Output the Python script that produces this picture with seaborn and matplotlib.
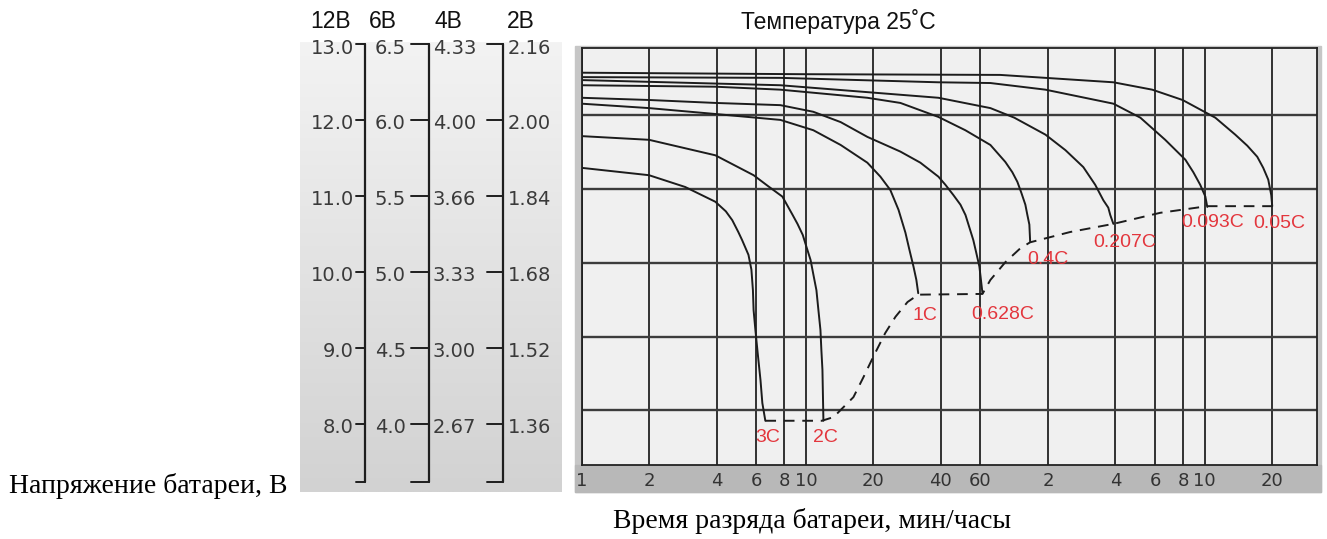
import numpy as np
import pandas as pd
import seaborn as sns
import matplotlib.pyplot as plt
from matplotlib.patches import Rectangle
from matplotlib.ticker import NullLocator

# left scales: the same marks for 12, 6, 4 and 2 V batteries
volts_12 = [13.0, 12.0, 11.0, 10.0, 9.0, 8.0]
labels_12 = ["13.0", "12.0", "11.0", "10.0", "9.0", "8.0"]
labels_6 = ["6.5", "6.0", "5.5", "5.0", "4.5", "4.0"]
labels_4 = ["4.33", "4.00", "3.66", "3.33", "3.00", "2.67"]
labels_2 = ["2.16", "2.00", "1.84", "1.68", "1.52", "1.36"]
scale_bottom = 7.23
headers = ["12В", "6В", "4В", "2В"]

# discharge curves: time (min) and voltage (12 V battery)
rates = ["3C", "2C", "1C", "0.628C", "0.4C", "0.207C", "0.093C", "0.05C"]
t_3c = [1, 2, 2.9, 3.95, 4.4, 4.7, 5.0, 5.2, 5.55, 5.72, 5.81, 5.85, 5.96, 6.1, 6.28, 6.4, 6.6]
v_3c = [11.29, 11.19, 11.03, 10.83, 10.70, 10.58, 10.42, 10.31, 10.11, 9.91, 9.63, 9.36,
        9.09, 8.78, 8.41, 8.10, 7.86]
t_2c = [1, 2, 3.95, 5.85, 6.8, 7.86, 8.7, 9.18, 9.69, 10.06, 10.5, 10.81, 11.15, 11.38,
        11.62, 11.73, 11.86, 11.92, 11.98]
v_2c = [11.72, 11.67, 11.46, 11.19, 11.04, 10.90, 10.66, 10.53, 10.38, 10.22, 10.04, 9.84,
        9.63, 9.36, 9.09, 8.82, 8.55, 8.20, 7.86]
t_1c = [1, 2, 3.95, 7.7, 10.8, 14.3, 18.8, 21.5, 23.8, 25.9, 27.8, 28.9, 30.2, 31.1, 31.7]
v_1c = [12.16, 12.10, 12.02, 11.94, 11.80, 11.60, 11.36, 11.17, 10.99, 10.72, 10.41, 10.19,
        9.95, 9.77, 9.59]
t_0628 = [1, 2, 3.95, 7.7, 10.8, 14.3, 18.8, 26.4, 32.4, 39.0, 41.9, 45.5, 48.9, 51.5,
          55.8, 57.5, 59.4, 61.3]
v_0628 = [12.24, 12.21, 12.17, 12.14, 12.05, 11.91, 11.71, 11.51, 11.36, 11.17, 11.06, 10.92,
          10.79, 10.65, 10.31, 10.14, 9.95, 9.59]
t_04 = [1, 3.95, 7.7, 18.8, 26.4, 39, 51.4, 66.5, 77.5, 83.3, 87.7, 91.4, 95.2, 97.2, 99.2, 100]
v_04 = [12.41, 12.39, 12.35, 12.24, 12.17, 11.98, 11.80, 11.60, 11.37, 11.23, 11.10, 10.95,
        10.79, 10.65, 10.52, 10.29]
t_0207 = [1, 7.7, 39, 66.5, 85, 117, 143.6, 172.6, 195, 212, 223, 227.6, 235]
v_0207 = [12.48, 12.41, 12.24, 12.10, 11.97, 11.74, 11.53, 11.30, 11.06, 10.85, 10.75, 10.65, 10.53]
t_0093 = [1, 7.7, 39, 66.5, 117, 235, 310, 400, 492, 534, 573, 604, 616]
v_0093 = [12.52, 12.51, 12.45, 12.44, 12.35, 12.16, 11.97, 11.67, 11.40, 11.23, 11.06, 10.90, 10.76]
t_005 = [1, 9.46, 73.6, 235, 350, 478, 669, 821, 929, 1029, 1094, 1152, 1188, 1200]
v_005 = [12.58, 12.56, 12.55, 12.45, 12.35, 12.21, 11.97, 11.74, 11.59, 11.44, 11.29, 11.13,
         10.92, 10.77]

# final voltage line (dashed)
t_end = [6.6, 11.8, 13.3, 16.3, 18.06, 20.0, 22.6, 25.1, 28.4, 31.7, 61.3, 66.5,
         77.5, 90.5, 100, 151, 235, 380, 616, 1200]
v_end = [7.86, 7.86, 7.91, 8.18, 8.45, 8.73, 9.05, 9.27, 9.47, 9.57, 9.58, 9.77,
         10.01, 10.20, 10.28, 10.42, 10.53, 10.68, 10.77, 10.77]

x_ticks = [1, 2, 4, 6, 8, 10, 20, 40, 60, 120, 240, 360, 480, 600, 1200]
x_tick_labels = ["1", "2", "4", "6", "8", "10", "20", "40", "60",
                 "2", "4", "6", "8", "10", "20"]
y_grid = [12, 11, 10, 9, 8]

t_all = [t_3c, t_2c, t_1c, t_0628, t_04, t_0207, t_0093, t_005]
v_all = [v_3c, v_2c, v_1c, v_0628, v_04, v_0207, v_0093, v_005]
label_offsets = [(2, -17), (2, -17), (7, -22), (20, -21), (18, -18), (11, -19), (5, -16), (7, -17)]

rows = []
for rate, ts, vs in zip(rates, t_all, v_all):
    for t, v in zip(ts, vs):
        rows.append((rate, t, v))
df = pd.DataFrame(rows, columns=["rate", "t", "v"])

sns.set_style("white")
plt.rcParams["font.family"] = ["Liberation Sans", "DejaVu Sans"]

W, H = 1327, 539
fig = plt.figure(figsize=(W / 100, H / 100), dpi=100)


def box(x0, y0, x1, y1):
    return [x0 / W, 1 - y1 / H, (x1 - x0) / W, (y1 - y0) / H]


# grey frame around the chart
fig.patches.append(Rectangle((575 / W, 1 - 492 / H), (1321 - 575) / W, (492 - 46) / H,
                             transform=fig.transFigure, color="#c6c6c6", zorder=-2))
fig.patches.append(Rectangle((575 / W, 1 - 492 / H), (1321 - 575) / W, (492 - 465) / H,
                             transform=fig.transFigure, color="#b8b8b8", zorder=-1))

# ---- main chart ----
ax = fig.add_axes(box(581.5, 48, 1317, 465))
ax.set_facecolor("#f0f0f0")
sns.lineplot(data=df, x="t", y="v", hue="rate", estimator=None, sort=False,
             palette=["#1c1c1c"] * len(rates), legend=False, lw=1.4, ax=ax)
sns.lineplot(x=t_end, y=v_end, estimator=None, sort=False, color="#1c1c1c",
             lw=1.4, linestyle=(0, (5.5, 4)), ax=ax)

ax.set_xscale("log")
ax.set_xlim(1, 1900)
ax.set_ylim(7.26, 12.915)
ax.set_xticks(x_ticks)
ax.set_xticklabels(x_tick_labels)
ax.xaxis.set_minor_locator(NullLocator())
ax.set_yticks(y_grid)
ax.set_yticklabels([])
ax.tick_params(axis="both", length=0)
ax.tick_params(axis="x", pad=5, labelsize=13, labelcolor="#333333")
for lab in ax.get_xticklabels():
    lab.set_family("DejaVu Sans")
ax.xaxis.grid(True, color="#222222", lw=1.3)
ax.yaxis.grid(True, color="#3c3c3c", lw=1.7)
ax.set_axisbelow(True)
for sp in ax.spines.values():
    sp.set_visible(True)
    sp.set_color("#222222")
    sp.set_linewidth(1.3)
ax.set_xlabel("")
ax.set_ylabel("")

red = "#e3363d"
for rate, ts, vs, off in zip(rates, t_all, v_all, label_offsets):
    ax.annotate(rate, xy=(ts[-1], vs[-1]), xytext=off, textcoords="offset pixels",
                ha="center", va="center", color=red, fontsize=14)

# ---- left voltage scales ----
ax2 = fig.add_axes(box(300, 42, 562, 492))
ax2.set_xlim(300, 562)
ax2.set_ylim(7.10, 13.03)
grad = np.linspace(0, 1, 256).reshape(-1, 1)
ax2.imshow(grad, cmap=sns.blend_palette(["#f3f3f3", "#d2d2d2"], as_cmap=True),
           extent=[300, 562, 7.10, 13.03], aspect="auto", origin="upper", zorder=0)
ax2.axis("off")

scale_cols = [
    # label list, label x, alignment, axis line x, tick start x
    (labels_12, 354, "right", 365, 356),
    (labels_6, 375, "left", 429, 411),
    (labels_4, 433, "left", 503, 487),
    (labels_2, 508, "left", None, None),
]
for labels, lx, ha, line_x, tick_x in scale_cols:
    for v, lab in zip(volts_12, labels):
        ax2.text(lx, v - 0.05, lab, ha=ha, va="center", fontsize=14,
                 color="#3a3a3a", family="DejaVu Sans")
        if line_x is not None:
            ax2.plot([tick_x, line_x], [v, v], color="#1e1e1e", lw=1.4)
    if line_x is not None:
        ax2.plot([line_x, line_x], [volts_12[0], scale_bottom], color="#1e1e1e", lw=1.6)
        ax2.plot([tick_x, line_x], [scale_bottom, scale_bottom], color="#1e1e1e", lw=1.4)

# ---- texts ----
for hx, h in zip([331, 383, 448, 521], headers):
    fig.text(hx / W, 1 - 22 / H, h, ha="center", va="center", fontsize=16.5, color="#111111")
fig.text(838 / W, 1 - 22 / H, "Температура 25˚C", ha="center", va="center",
         fontsize=16.5, color="#111111")
fig.text(9 / W, 1 - 486 / H, "Напряжение батареи, В", ha="left", va="center",
         fontsize=20, family="Liberation Serif", color="#000000")
fig.text(812 / W, 1 - 521 / H, "Время разряда батареи, мин/часы", ha="center",
         va="center", fontsize=20, family="Liberation Serif", color="#000000")

fig.savefig("out.png", dpi=100, facecolor="white")
